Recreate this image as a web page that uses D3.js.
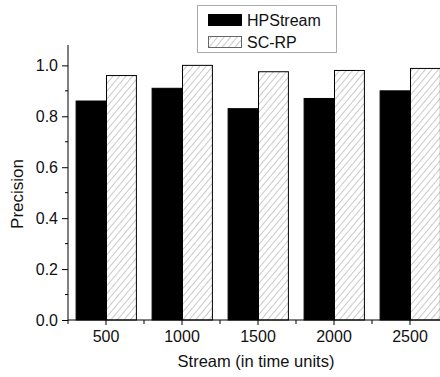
<!DOCTYPE html>
<html><head><meta charset="utf-8">
<script src="https://cdn.jsdelivr.net/npm/d3@7"></script>
<style>body{margin:0;background:#fff}svg{display:block}text{font-family:"Liberation Sans",Arial,sans-serif;fill:#111}</style>
</head><body><svg id="c" width="440" height="377"></svg>
<script>
const categories = ["500","1000","1500","2000","2500"];
const seriesNames = ["HPStream","SC-RP"];
const hpstream = [0.86, 0.91, 0.83, 0.87, 0.90];
const scrp = [0.96, 1.00, 0.975, 0.98, 0.988];
const yTicks = [0.0, 0.2, 0.4, 0.6, 0.8, 1.0];
const yMinor = [0.1, 0.3, 0.5, 0.7, 0.9];

const svg = d3.select("#c");
const defs = svg.append("defs");
const pat = defs.append("pattern").attr("id","hatch").attr("patternUnits","userSpaceOnUse")
  .attr("width",5).attr("height",5).attr("patternTransform","rotate(40)");
pat.append("rect").attr("width",5).attr("height",5).attr("fill","#fff");
pat.append("line").attr("x1",0).attr("y1",0).attr("x2",0).attr("y2",5).attr("stroke","#8a8a8a").attr("stroke-width",0.9);

const x = d3.scaleBand().domain(categories).range([68,448]).paddingInner(0.2).paddingOuter(0.1);
const x1 = d3.scaleBand().domain(seriesNames).range([0,x.bandwidth()]);
const y = d3.scaleLinear().domain([0,1.08]).range([320,45]);

const data = categories.map((c,i)=>({c, vals:[hpstream[i], scrp[i]]}));
const g = svg.append("g");
data.forEach(d=>{
  d.vals.forEach((v,j)=>{
    g.append("rect")
      .attr("x", x(d.c)+x1(seriesNames[j])+0.5)
      .attr("y", y(v))
      .attr("width", x1.bandwidth()-0.5)
      .attr("height", y(0)-y(v))
      .attr("fill", j===0 ? "#000" : "url(#hatch)")
      .attr("stroke","#000").attr("stroke-width",1);
  });
});

// Y axis
const ya = svg.append("g").attr("transform","translate(68,0)")
  .call(d3.axisLeft(y).tickValues(yTicks).tickFormat(d3.format(".1f")).tickSize(6).tickPadding(4));
ya.select(".domain").attr("d","M0,45V320").attr("stroke","#000");
ya.selectAll("text").style("font-size","16px");
ya.selectAll(".minor").data(yMinor).enter().append("line").attr("class","minor")
  .attr("x1",-3).attr("x2",0).attr("y1",d=>y(d)).attr("y2",d=>y(d)).attr("stroke","#000");

// X axis
const xa = svg.append("g").attr("transform","translate(0,320)")
  .call(d3.axisBottom(x).tickSize(5).tickPadding(6));
xa.select(".domain").attr("d","M68,0H440").attr("stroke","#000");
xa.selectAll("text").style("font-size","16px");
const bounds = d3.range(0, categories.length).map(i => x.range()[0] + i*x.step());
xa.selectAll(".minor").data(bounds).enter().append("line").attr("class","minor")
  .attr("x1",d=>d).attr("x2",d=>d).attr("y1",0).attr("y2",4).attr("stroke","#000");

// Axis titles
svg.append("text").attr("transform","translate(23,194) rotate(-90)").attr("text-anchor","middle")
  .style("font-size","17px").text("Precision");
svg.append("text").attr("x",256).attr("y",367).attr("text-anchor","middle")
  .style("font-size","16.5px").text("Stream (in time units)");

// Legend
const lg = svg.append("g");
lg.append("rect").attr("x",197.5).attr("y",5.5).attr("width",139).attr("height",47)
  .attr("fill","#fff").attr("stroke","#aaa");
seriesNames.forEach((s,i)=>{
  lg.append("rect").attr("x",208.5).attr("y",14.5+i*22).attr("width",33).attr("height",11)
    .attr("fill", i===0?"#000":"url(#hatch)").attr("stroke", i===0?"#000":"#666");
  lg.append("text").attr("x",247).attr("y",26+i*22).style("font-size","16px").text(s);
});
</script></body></html>
